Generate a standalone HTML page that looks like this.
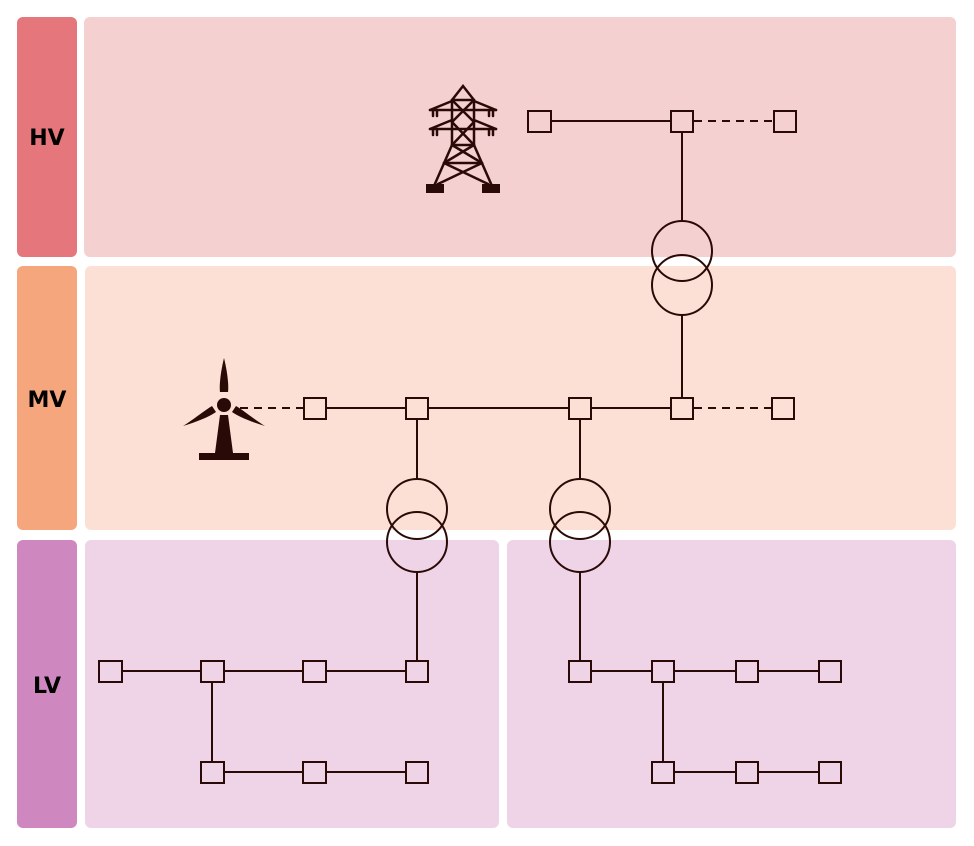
<!DOCTYPE html>
<html><head><meta charset="utf-8"><style>
html,body{margin:0;padding:0;background:#fff}
svg{display:block}
text{font-family:"DejaVu Sans","Liberation Sans",sans-serif;font-weight:bold;font-size:22px;fill:#000}
</style></head><body>
<svg width="974" height="846" viewBox="0 0 974 846" xmlns="http://www.w3.org/2000/svg">
<rect x="17" y="17" width="60" height="240" rx="6" fill="#e4767c"/>
<rect x="84" y="17" width="872" height="240" rx="6" fill="#f5d0d0"/>
<rect x="17" y="266" width="60" height="264" rx="6" fill="#f5a67d"/>
<rect x="85" y="266" width="871" height="264" rx="6" fill="#fce0d5"/>
<rect x="17" y="540" width="60" height="288" rx="6" fill="#cf88bf"/>
<rect x="85" y="540" width="414" height="288" rx="6" fill="#efd4e8"/>
<rect x="507" y="540" width="449" height="288" rx="6" fill="#efd4e8"/>
<text x="47" y="145" text-anchor="middle">HV</text>
<text x="47" y="407" text-anchor="middle">MV</text>
<text x="47" y="693" text-anchor="middle">LV</text>
<g stroke="#2a0a06" stroke-width="2" fill="none">
<line x1="551" y1="121" x2="670" y2="121"/>
<line x1="694" y1="121" x2="773" y2="121" stroke-dasharray="8,6"/>
<line x1="682" y1="132" x2="682" y2="221"/>
<circle cx="682" cy="251" r="30"/>
<circle cx="682" cy="285" r="30"/>
<line x1="682" y1="315" x2="682" y2="397"/>
<line x1="240" y1="408" x2="303" y2="408" stroke-dasharray="8,6"/>
<line x1="327" y1="408" x2="670" y2="408"/>
<line x1="694" y1="408" x2="771" y2="408" stroke-dasharray="8,6"/>
<line x1="417" y1="419" x2="417" y2="479"/>
<line x1="580" y1="419" x2="580" y2="479"/>
<circle cx="417" cy="509" r="30"/><circle cx="417" cy="542" r="30"/>
<circle cx="580" cy="509" r="30"/><circle cx="580" cy="542" r="30"/>
<line x1="417" y1="572" x2="417" y2="660"/>
<line x1="580" y1="572" x2="580" y2="660"/>
<line x1="110" y1="671" x2="417" y2="671"/>
<line x1="212" y1="671" x2="212" y2="772"/>
<line x1="212" y1="772" x2="417" y2="772"/>
<line x1="580" y1="671" x2="830" y2="671"/>
<line x1="663" y1="671" x2="663" y2="772"/>
<line x1="663" y1="772" x2="830" y2="772"/>
</g>
<g stroke="#2a0a06" stroke-width="2">
<g fill="#f5d0d0">
<rect x="528" y="111" width="23" height="21"/><rect x="671" y="111" width="22" height="21"/><rect x="774" y="111" width="22" height="21"/>
</g>
<g fill="#fce0d5">
<rect x="304" y="398" width="22" height="21"/><rect x="406" y="398" width="22" height="21"/><rect x="569" y="398" width="22" height="21"/><rect x="671" y="398" width="22" height="21"/><rect x="772" y="398" width="22" height="21"/>
</g>
<g fill="#efd4e8">
<rect x="99" y="661" width="23" height="21"/><rect x="201" y="661" width="23" height="21"/><rect x="303" y="661" width="23" height="21"/><rect x="406" y="661" width="22" height="21"/>
<rect x="201" y="762" width="23" height="21"/><rect x="303" y="762" width="23" height="21"/><rect x="406" y="762" width="22" height="21"/>
<rect x="569" y="661" width="22" height="21"/><rect x="652" y="661" width="22" height="21"/><rect x="736" y="661" width="22" height="21"/><rect x="819" y="661" width="22" height="21"/>
<rect x="652" y="762" width="22" height="21"/><rect x="736" y="762" width="22" height="21"/><rect x="819" y="762" width="22" height="21"/>
</g>
</g>
<!-- tower -->
<g stroke="#2a0a06" stroke-width="2.5" fill="none" stroke-linecap="round">
<polyline points="452,100 463,86 474,100"/>
<line x1="452" y1="100" x2="452" y2="145"/><line x1="474" y1="100" x2="474" y2="145"/>
<line x1="452" y1="100" x2="474" y2="100"/>
<line x1="452" y1="100" x2="474" y2="122"/><line x1="474" y1="100" x2="452" y2="122"/>
<line x1="452" y1="122" x2="474" y2="145"/><line x1="474" y1="122" x2="452" y2="145"/>
<line x1="452" y1="145" x2="474" y2="145"/>
<line x1="430" y1="110" x2="452" y2="101"/><line x1="496" y1="110" x2="474" y2="101"/>
<line x1="430" y1="110" x2="496" y2="110"/>
<line x1="430" y1="129" x2="452" y2="120"/><line x1="496" y1="129" x2="474" y2="120"/>
<line x1="430" y1="129" x2="496" y2="129"/>
<line x1="452" y1="145" x2="434" y2="186"/><line x1="474" y1="145" x2="492" y2="186"/>
<line x1="444" y1="163" x2="482" y2="163"/>
<line x1="452" y1="145" x2="482" y2="163"/><line x1="474" y1="145" x2="444" y2="163"/>
<line x1="444" y1="163" x2="488" y2="184"/><line x1="482" y1="163" x2="438" y2="184"/>
<line x1="433" y1="110" x2="433" y2="116"/><line x1="437" y1="110" x2="437" y2="116"/>
<line x1="489" y1="110" x2="489" y2="116"/><line x1="493" y1="110" x2="493" y2="116"/>
<line x1="433" y1="129" x2="433" y2="135"/><line x1="437" y1="129" x2="437" y2="135"/>
<line x1="489" y1="129" x2="489" y2="135"/><line x1="493" y1="129" x2="493" y2="135"/>
</g>
<rect x="426" y="184" width="18" height="9" fill="#2a0a06"/>
<rect x="482" y="184" width="18" height="9" fill="#2a0a06"/>
<!-- wind turbine -->
<g fill="#2a0a06">
<circle cx="224" cy="405" r="7"/>
<path d="M224,358 C221,370 219,385 220,392 L228,392 C229,385 227,370 224,358Z"/>
<path d="M183,426 C193,420 205,410 212,406 L216,412 C209,417 196,422 183,426Z"/>
<path d="M265,426 C255,420 243,410 236,406 L232,412 C239,417 252,422 265,426Z"/>
<path d="M220,415 L228,415 L233,453 L215,453Z"/>
<rect x="199" y="453" width="50" height="7"/>
</g>
</svg>
</body></html>
